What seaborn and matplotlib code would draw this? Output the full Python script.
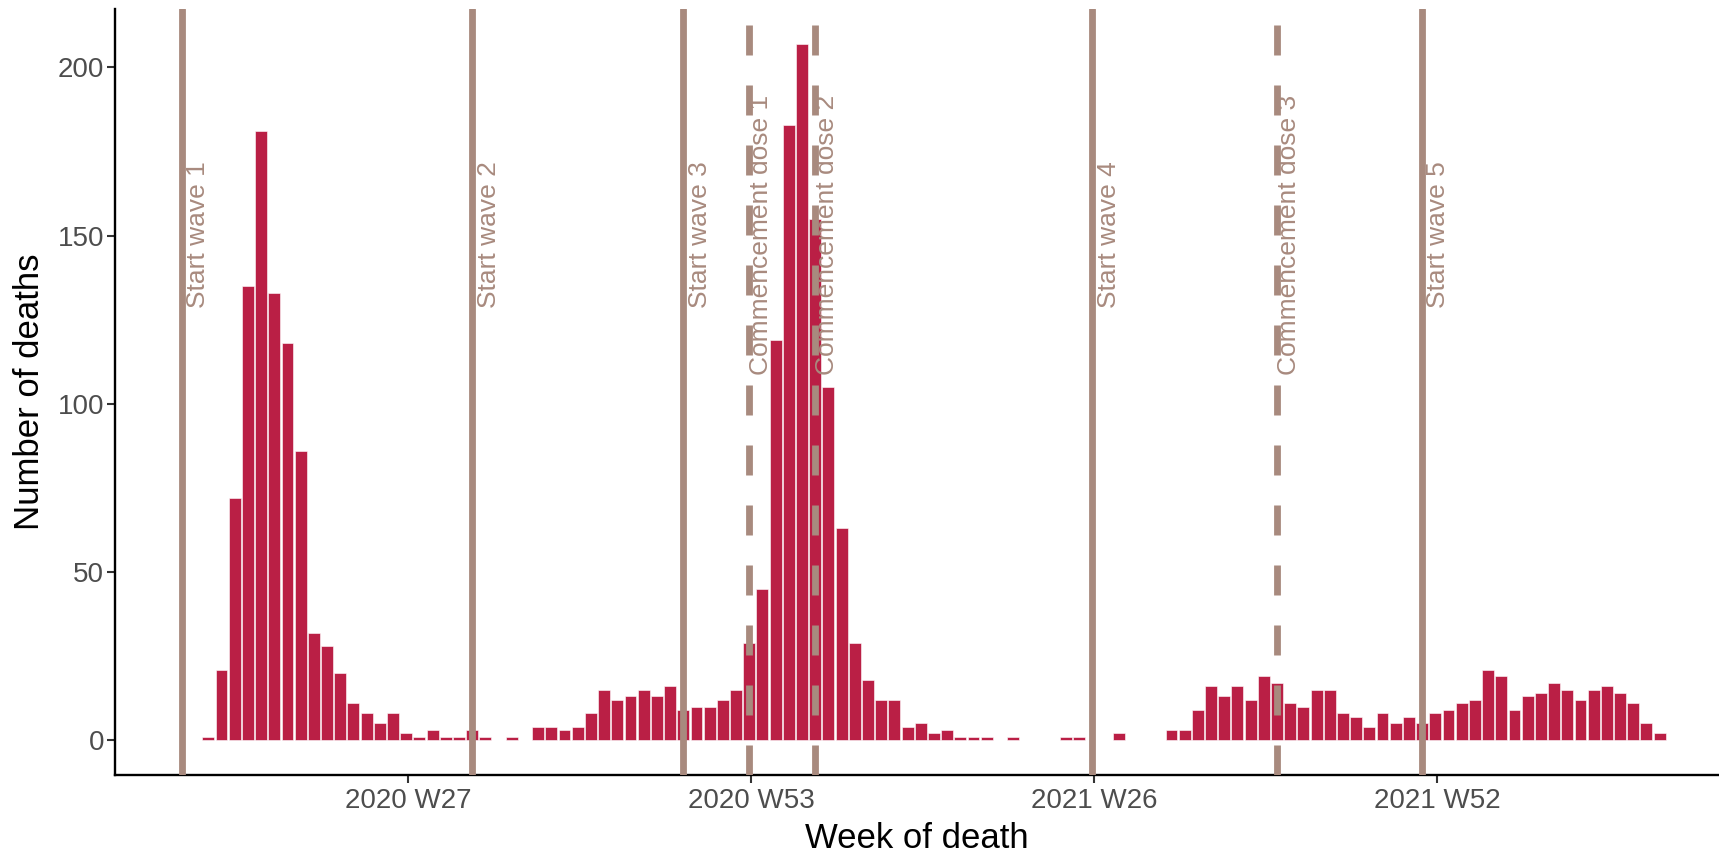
import seaborn as sns
import matplotlib.pyplot as plt

# week index counted from 2020 W1 (2020 has 53 ISO weeks, 2021 W1 = 54)
weeks = [12, 13, 14, 15, 16, 17, 18, 19, 20, 21, 22, 23, 24, 25, 26, 27, 28, 29, 30, 31,
         32, 33, 35, 37, 38, 39, 40, 41, 42, 43, 44, 45, 46, 47, 48, 49, 50, 51, 52, 53,
         54, 55, 56, 57, 58, 59, 60, 61, 62, 63, 64, 65, 66, 67, 68, 69, 70, 71, 73, 77,
         78, 81, 85, 86, 87, 88, 89, 90, 91, 92, 93, 94, 95, 96, 97, 98, 99, 100, 101, 102,
         103, 104, 105, 106, 107, 108, 109, 110, 111, 112, 113, 114, 115, 116, 117, 118, 119, 120, 121, 122]
deaths = [1, 21, 72, 135, 181, 133, 118, 86, 32, 28, 20, 11, 8, 5, 8, 2, 1, 3, 1, 1,
          3, 1, 1, 4, 4, 3, 4, 8, 15, 12, 13, 15, 13, 16, 9, 10, 10, 12, 15, 29,
          45, 119, 183, 207, 155, 105, 63, 29, 18, 12, 12, 4, 5, 2, 3, 1, 1, 1, 1, 1,
          1, 2, 3, 3, 9, 16, 13, 16, 12, 19, 17, 11, 10, 15, 15, 8, 7, 4, 8, 5,
          7, 5, 8, 9, 11, 12, 21, 19, 9, 13, 14, 17, 15, 12, 15, 16, 14, 11, 5, 2]

tick_weeks = [27, 53, 79, 105]
tick_labels = ['2020 W27', '2020 W53', '2021 W26', '2021 W52']

# events: (week, label, dashed?)
event_weeks = [10, 32, 48, 53, 58, 79, 93, 104]
event_labels = ['Start wave 1', 'Start wave 2', 'Start wave 3', 'Commencement dose 1',
                'Commencement dose 2', 'Start wave 4', 'Commencement dose 3', 'Start wave 5']
event_dashed = [False, False, False, True, True, False, True, False]

bar_col = '#BA1F45'
line_col = '#A88A7E'

sns.set_theme(style='white')
plt.rcParams['font.family'] = ['Liberation Sans', 'DejaVu Sans']
plt.rcParams['lines.scale_dashes'] = False

fig = plt.figure(figsize=(17.19, 8.55), dpi=100)
ax = fig.add_axes([115/1719, 80/855, (1719-115)/1719, (775-9)/855])

sns.barplot(x=weeks, y=deaths, native_scale=True, color=bar_col, saturation=1,
            width=0.9, edgecolor='white', linewidth=0.4, errorbar=None, ax=ax)

# vertical event lines + labels
for wk, lab, dashed in zip(event_weeks, event_labels, event_dashed):
    if dashed:
        ax.axvline(wk, color=line_col, lw=4.9, dashes=(21.6, 21.6), zorder=3)
        ax.text(wk, 108.5, lab, rotation=90, ha='left', va='bottom',
                fontsize=19, color=line_col, zorder=4)
    else:
        ax.axvline(wk, color=line_col, lw=4.9, zorder=3)
        ax.text(wk + 0.33, 128.5, lab, rotation=90, ha='left', va='bottom',
                fontsize=19, color=line_col, zorder=4)

ax.set_xlim(4.93, 126.5)
ax.set_ylim(-10.35, 217.35)
ax.set_xticks([t + 1/7 for t in tick_weeks])  # ticks sit on the week start date
ax.set_xticklabels(tick_labels)
ax.set_yticks([0, 50, 100, 150, 200])

ax.tick_params(axis='both', which='major', length=5.5, width=1.5, color='#333333',
               labelcolor='#4D4D4D', labelsize=20, bottom=True, left=True)
ax.tick_params(axis='x', pad=3.6)
ax.tick_params(axis='y', pad=2.5)

for s in ['top', 'right']:
    ax.spines[s].set_visible(False)
for s in ['left', 'bottom']:
    ax.spines[s].set_color('black')
    ax.spines[s].set_linewidth(1.7)

ax.set_xlabel('Week of death', fontsize=25, color='black', labelpad=6)
ax.set_ylabel('Number of deaths', fontsize=25, color='black', labelpad=8)

plt.savefig('out.png', dpi=100)
